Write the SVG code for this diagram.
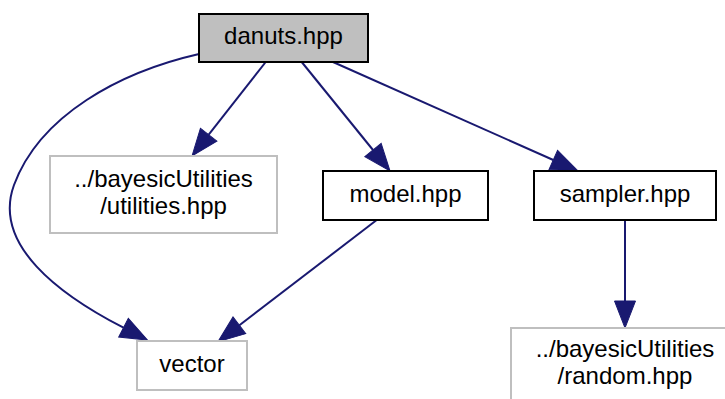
<svg xmlns="http://www.w3.org/2000/svg" width="725" height="399" viewBox="0 0 725 399">
<defs>
<style>
.t{font-family:"Liberation Sans",Arial,Helvetica,sans-serif;font-size:24px;fill:#000;text-anchor:middle}
.n rect{fill:#fff;stroke:#000;stroke-width:2}
.n.g rect{stroke:#bfbfbf}
.n.m rect{fill:#bfbfbf}
.e path{fill:none;stroke:#191970;stroke-width:2}
</style>
<marker id="ah" markerUnits="userSpaceOnUse" markerWidth="28" markerHeight="22" refX="0" refY="10.5" orient="auto" overflow="visible">
<path d="M0,0 L27,10.5 L0,21 Z" fill="#191970" stroke="#191970" stroke-width="1"/>
</marker>
</defs>
<rect width="725" height="399" fill="#fff"/>
<g id="edges" class="e">
<path d="M265.7,62 L208.7,134.7" marker-end="url(#ah)"/>
<path d="M301.7,62 L373,150" marker-end="url(#ah)"/>
<path d="M333,62 L553.3,160" marker-end="url(#ah)"/>
<path d="M625,220 L625,301" marker-end="url(#ah)"/>
<path d="M376.7,220 L239.4,325.3" marker-end="url(#ah)"/>
<path d="M199,54 C120,72 40,115 14,185 C-8,245 60,295 123.5,327.7" marker-end="url(#ah)"/>
</g>
<g id="node-danuts" class="n m">
<rect x="199" y="14" width="169" height="48"/>
<text class="t" x="283.5" y="44">danuts.hpp</text>
</g>
<g id="node-utilities" class="n g">
<rect x="50" y="156" width="227" height="77"/>
<text class="t" x="163.5" y="187">../bayesicUtilities</text>
<text class="t" x="163.5" y="214">/utilities.hpp</text>
</g>
<g id="node-model" class="n">
<rect x="323" y="171" width="165" height="49"/>
<text class="t" x="405.5" y="202">model.hpp</text>
</g>
<g id="node-sampler" class="n">
<rect x="534" y="171" width="182" height="49"/>
<text class="t" x="625" y="202">sampler.hpp</text>
</g>
<g id="node-vector" class="n g">
<rect x="137" y="341" width="110" height="49"/>
<text class="t" x="192" y="372">vector</text>
</g>
<g id="node-random" class="n g">
<rect x="511" y="328" width="228" height="77"/>
<text class="t" x="625" y="357">../bayesicUtilities</text>
<text class="t" x="625" y="384">/random.hpp</text>
</g>
</svg>
